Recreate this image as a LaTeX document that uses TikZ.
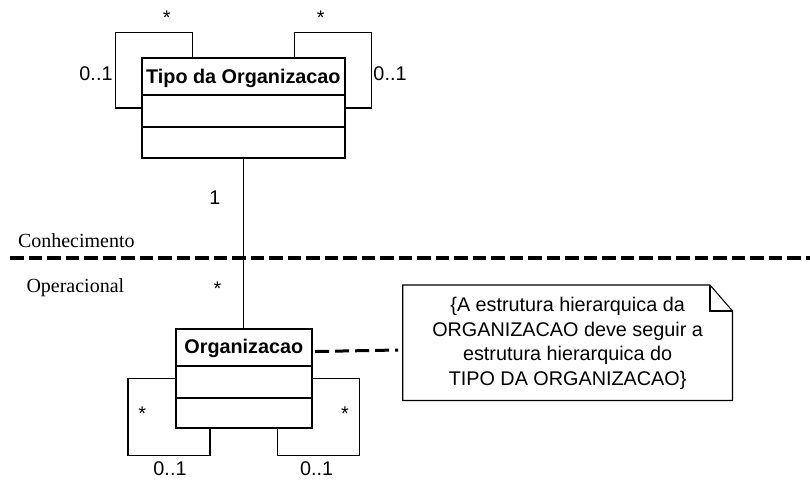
\documentclass[tikz,border=0pt]{standalone}
\usepackage{fontspec}
\setmainfont{Liberation Serif}
\setsansfont{Liberation Sans}
\usetikzlibrary{calc}

\begin{document}
\begin{tikzpicture}[x=1pt,y=-1pt,
  every node/.style={inner sep=0pt, outer sep=0pt},
  mult/.style={font=\sffamily\fontsize{19.8}{24}\selectfont, anchor=base},
  layername/.style={font=\rmfamily\fontsize{20}{24}\selectfont, anchor=base west},
  classbox/.style={draw, line width=2pt},
  classrule/.style={line width=2pt},
  classtitle/.style={font=\sffamily\bfseries\fontsize{19.8}{24}\selectfont, anchor=base},
  selfloop/.style={line width=1.1pt},
  assoc/.style={line width=1.1pt},
  layerline/.style={line width=3.6pt, dash pattern=on 13.5pt off 5pt},
  notelink/.style={line width=3pt, dash pattern=on 14pt off 6pt},
  notebox/.style={line width=1.1pt, line join=miter},
  notetext/.style={font=\sffamily\fontsize{19.8}{24.5}\selectfont, align=center}
]
\useasboundingbox (0,0) rectangle (810,481);

% ---- class: Tipo da Organizacao ----
\node[classbox, minimum width=203.3pt, minimum height=99.4pt] (tipo) at (243.35,108) {};
\draw[classrule] ([yshift=-36.7pt]tipo.north west) -- ([yshift=-36.7pt]tipo.north east);
\draw[classrule] ([yshift=-68.4pt]tipo.north west) -- ([yshift=-68.4pt]tipo.north east);
\node[classtitle] (tiponame) at (243.35,83.3) {Tipo da Organizacao};

% self associations of Tipo da Organizacao
\coordinate (tlA) at (115.7,32.3);
\coordinate (tlB) at (192.7,32.3);
\coordinate (trA) at (294.3,32.3);
\coordinate (trB) at (371.7,32.3);
\draw[selfloop] (tipo.west) -| (tlA) -| (tlB |- tipo.north);
\draw[selfloop] (trA |- tipo.north) |- (trB) |- (tipo.east);
\node[mult] (tlmany) at (166.7,24.3) {*};
\node[mult] (trmany) at (320.7,24.3) {*};
\node[mult] (tlopt) at (96,80.2) {0..1};
\node[mult] (tropt) at (390,80.2) {0..1};

% ---- class: Organizacao ----
\node[classbox, minimum width=135.7pt, minimum height=99pt] (org) at (243.85,378.8) {};
\draw[classrule] ([yshift=-36.7pt]org.north west) -- ([yshift=-36.7pt]org.north east);
\draw[classrule] ([yshift=-68.7pt]org.north west) -- ([yshift=-68.7pt]org.north east);
\node[classtitle] (orgname) at (243.85,353.3) {Organizacao};

% self associations of Organizacao
\coordinate (blA) at (128,455.7);
\coordinate (blB) at (210,455.7);
\coordinate (brA) at (277.7,455.7);
\coordinate (brB) at (359.3,455.7);
\draw[selfloop] (org.west) -| (blA) -| (blB |- org.south);
\draw[selfloop] (brA |- org.south) |- (brB) |- (org.east);
\node[mult] (blmany) at (142.3,420.6) {*};
\node[mult] (brmany) at (345,420.6) {*};
\node[mult] (blopt) at (170,475.2) {0..1};
\node[mult] (bropt) at (316.7,475.2) {0..1};

% ---- association between the two classes ----
\draw[assoc] (tipo.south) -- (tipo.south |- org.north);
\node[mult] (assocone) at (215,204.2) {1};
\node[mult] (assocmany) at (217.5,295.3) {*};

% ---- layer boundary ----
\coordinate (layL) at (10,258);
\coordinate (layR) at (810,258);
\draw[layerline] (layL) -- (layR);
\node[layername] (upper) at (18,247.5) {Conhecimento};
\node[layername] (lower) at (26.5,292.5) {Operacional};

% ---- constraint note ----
\node[minimum width=329.8pt, minimum height=115.5pt] (note) at (567.6,342.75) {};
\draw[notebox] (note.north west) -- ([xshift=-22.5pt]note.north east)
  -- ([yshift=-26pt]note.north east) -- (note.south east) -- (note.south west) -- cycle;
\draw[notebox] ([xshift=-22.5pt]note.north east) -- ([xshift=-22.5pt,yshift=-26pt]note.north east)
  -- ([yshift=-26pt]note.north east);
\node[notetext] (notetxt) at ([yshift=-0.6pt]note.center)
  {\{A estrutura hierarquica da\\ORGANIZACAO deve seguir a\\estrutura hierarquica do\\TIPO DA ORGANIZACAO\}};
\draw[notelink] ($(org.north east)+(3.5,22.2)$) -- ($(note.north west)+(-4.5,65)$);
\end{tikzpicture}
\end{document}
